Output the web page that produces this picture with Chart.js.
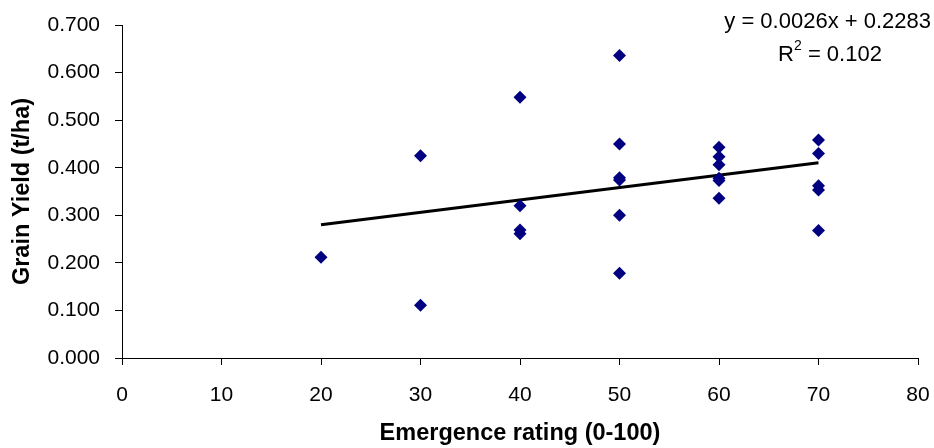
<!DOCTYPE html>
<html>
<head>
<meta charset="utf-8">
<script src="https://cdn.jsdelivr.net/npm/chart.js@4/dist/chart.umd.min.js"></script>
<style>
html,body{margin:0;padding:0;background:#fff;}
#wrap{width:934px;height:448px;}
</style>
</head>
<body>
<div id="wrap"><canvas id="c" width="934" height="448"></canvas></div>
<script>
const emergence = [20, 30, 30, 40, 40, 40, 40, 50, 50, 50, 50, 50, 50, 60, 60, 60, 60, 60, 60, 70, 70, 70, 70, 70];
const grainYield = [0.212, 0.425, 0.111, 0.548, 0.320, 0.269, 0.261, 0.636, 0.450, 0.379, 0.374, 0.300, 0.178, 0.443, 0.423, 0.406, 0.378, 0.373, 0.336, 0.458, 0.430, 0.362, 0.353, 0.268];
const trendSlope = 0.0026;
const trendIntercept = 0.2283;
const trendX = [20, 70];
const equationText = "y = 0.0026x + 0.2283";
const r2Value = "0.102";
const xTitle = "Emergence rating (0-100)";
const yTitle = "Grain Yield (t/ha)";

const points = emergence.map((x, i) => ({x: x, y: grainYield[i]}));
const trend = trendX.map(x => ({x: x, y: trendSlope * x + trendIntercept}));

const font = "'Liberation Sans', Arial, sans-serif";

const eqPlugin = {
  id: 'eq',
  afterDraw(chart) {
    const ctx = chart.ctx;
    ctx.save();
    ctx.fillStyle = '#000';
    ctx.font = "22px " + font;
    ctx.textAlign = 'right';
    ctx.textBaseline = 'alphabetic';
    ctx.fillText(equationText, 931, 28);
    const rest = " = " + r2Value;
    ctx.textAlign = 'left';
    const wR = ctx.measureText("R").width;
    ctx.font = "14px " + font;
    const w2 = ctx.measureText("2").width;
    ctx.font = "22px " + font;
    const wRest = ctx.measureText(rest).width;
    const total = wR + w2 + wRest;
    const x0 = 830 - total / 2;
    ctx.fillText("R", x0, 61);
    ctx.font = "14px " + font;
    ctx.fillText("2", x0 + wR, 50);
    ctx.font = "22px " + font;
    ctx.fillText(rest, x0 + wR + w2, 61);
    ctx.restore();
  }
};

new Chart(document.getElementById('c'), {
  type: 'scatter',
  data: {
    datasets: [
      {
        data: points,
        pointStyle: 'rectRot',
        pointRadius: 6.5,
        pointHoverRadius: 6.5,
        backgroundColor: '#000080',
        borderColor: '#000080',
        borderWidth: 0,
        showLine: false
      },
      {
        data: trend,
        showLine: true,
        borderColor: '#000',
        borderWidth: 3,
        pointRadius: 0,
        fill: false
      }
    ]
  },
  options: {
    responsive: false,
    animation: false,
    devicePixelRatio: 1,
    layout: {padding: {left: 0, right: 16, top: 25, bottom: 0}},
    plugins: {legend: {display: false}, tooltip: {enabled: false}},
    scales: {
      x: {
        type: 'linear',
        min: 0, max: 80,
        afterFit: s => { s.height = 90; s.paddingLeft = 0; s.paddingRight = 0; },
        ticks: {stepSize: 10, color: '#000', font: {family: font, size: 21}, padding: 18},
        grid: {drawOnChartArea: false, drawTicks: true, tickLength: 7, color: '#000'},
        border: {display: true, color: '#000', width: 1},
        title: {display: true, text: xTitle, color: '#000', font: {family: font, size: 23.5, weight: 'bold'}, padding: {top: 0, bottom: 0}}
      },
      y: {
        type: 'linear',
        min: 0, max: 0.7,
        afterFit: s => { s.width = 122; s.paddingTop = 0; s.paddingBottom = 0; },
        ticks: {stepSize: 0.1, color: '#000', font: {family: font, size: 21}, padding: 15,
          callback: v => v.toFixed(3)},
        grid: {drawOnChartArea: false, drawTicks: true, tickLength: 7, color: '#000'},
        border: {display: true, color: '#000', width: 1},
        title: {display: true, text: yTitle, color: '#000', font: {family: font, size: 23.5, weight: 'bold'}, padding: {top: 8, bottom: 0}}
      }
    }
  },
  plugins: [eqPlugin]
});
</script>
</body>
</html>
